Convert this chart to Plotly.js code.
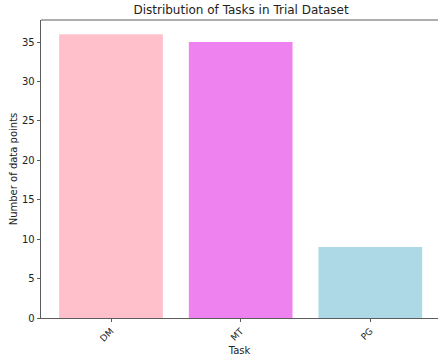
<!DOCTYPE html>
<html><head><meta charset="utf-8">
<script src="https://cdn.plot.ly/plotly-3.0.1.min.js"></script>
<style>html,body{margin:0;padding:0;background:#fff}</style>
</head><body>
<div id="chart" style="width:438px;height:358px"></div>
<script>
const categories = ["DM", "MT", "PG"];
const counts = [36, 35, 9];
const barColors = ["#FFC0CB", "#EE82EE", "#ADD8E6"];
const yTicks = [0, 5, 10, 15, 20, 25, 30, 35];

const font = {family: "DejaVu Sans, sans-serif", size: 10, color: "#222"};
Plotly.newPlot("chart", [{
  type: "bar",
  x: [0, 1, 2],
  y: counts,
  width: 0.8,
  marker: {color: barColors, line: {width: 0}},
  hoverinfo: "none"
}], {
  width: 438, height: 358,
  margin: {l: 41, r: 0, t: 20, b: 40, pad: 0},
  paper_bgcolor: "#fff", plot_bgcolor: "#fff",
  font: font,
  showlegend: false,
  title: {text: "Distribution of Tasks in Trial Dataset", font: {family: "DejaVu Sans, sans-serif", size: 12, color: "#222"},
          x: 0.504, xref: "paper", xanchor: "center", y: 0.972, yref: "container", yanchor: "middle"},
  shapes: [{type: "line", xref: "paper", yref: "paper", x0: 0, x1: 1, y0: 1, y1: 1, line: {color: "#333", width: 0.8}}],
  xaxis: {
    range: [-0.54, 2.522], tickmode: "array", tickvals: [0, 1, 2], ticktext: categories,
    tickangle: -45, ticks: "outside", ticklen: 3.5, tickcolor: "#333", tickwidth: 0.8,
    showline: true, linecolor: "#333", linewidth: 0.8, mirror: false,
    showgrid: false, zeroline: false, fixedrange: true,
    tickfont: {family: "DejaVu Sans, sans-serif", size: 9, color: "#222"},
    title: {text: "Task", font: {family: "DejaVu Sans, sans-serif", size: 10, color: "#222"}, standoff: 4}
  },
  yaxis: {
    range: [0, 37.8], tickmode: "array", tickvals: yTicks,
    ticks: "outside", ticklen: 3.5, tickcolor: "#333", tickwidth: 0.8,
    showline: true, linecolor: "#333", linewidth: 0.8, mirror: false,
    showgrid: false, zeroline: false, fixedrange: true,
    tickfont: {family: "DejaVu Sans, sans-serif", size: 10, color: "#222"},
    title: {text: "Number of data points", font: {family: "DejaVu Sans, sans-serif", size: 10, color: "#222"}, standoff: 2}
  }
}, {displayModeBar: false, staticPlot: true});
</script>
</body></html>
